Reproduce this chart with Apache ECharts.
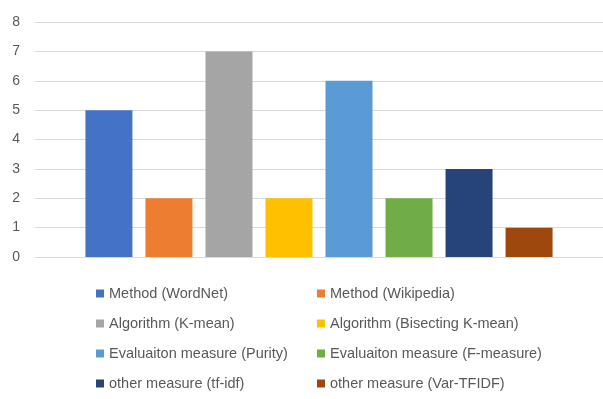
<!DOCTYPE html>
<html>
<head>
<meta charset="utf-8">
<script src="https://cdn.jsdelivr.net/npm/echarts@6/dist/echarts.min.js"></script>
<style>
  html, body { margin: 0; padding: 0; background: #fff; }
  #chart { width: 603px; height: 399px; }
</style>
</head>
<body>
<div id="chart"></div>
<script>
// Series names, values and colours, one bar per series
const seriesNames = [
  'Method (WordNet)',
  'Method (Wikipedia)',
  'Algorithm (K-mean)',
  'Algorithm (Bisecting K-mean)',
  'Evaluaiton measure (Purity)',
  'Evaluaiton measure (F-measure)',
  'other measure (tf-idf)',
  'other measure (Var-TFIDF)'
];
const seriesValues = [5, 2, 7, 2, 6, 2, 3, 1];
const seriesColors = ['#4472C4', '#ED7D31', '#A5A5A5', '#FFC000', '#5B9BD5', '#70AD47', '#264478', '#9E480E'];
const categories = [''];
const yTicks = { min: 0, max: 8, interval: 1 };

// Legend is laid out in two columns
const leftColumn = seriesNames.filter((_, i) => i % 2 === 0);
const rightColumn = seriesNames.filter((_, i) => i % 2 === 1);

const textStyle = { fontFamily: 'Liberation Sans', fontSize: 14.5, color: '#595959', lineHeight: 14 };

const legendBase = {
  orient: 'vertical',
  top: 281,
  height: 200,
  itemWidth: 8,
  itemHeight: 8,
  itemGap: 15,
  icon: 'rect',
  textStyle: textStyle,
  selectedMode: false
};

const chart = echarts.init(document.getElementById('chart'), null, { renderer: 'canvas' });
chart.setOption({
  animation: false,
  backgroundColor: '#ffffff',
  grid: { left: 35, top: 22, right: 0, bottom: 142, containLabel: false },
  legend: [
    Object.assign({}, legendBase, { left: 91, data: leftColumn }),
    Object.assign({}, legendBase, { left: 312, data: rightColumn })
  ],
  xAxis: {
    type: 'category',
    data: categories,
    axisLine: { show: false },
    axisTick: { show: false },
    axisLabel: { show: false }
  },
  yAxis: {
    type: 'value',
    min: yTicks.min,
    max: yTicks.max,
    interval: yTicks.interval,
    axisLine: { show: false },
    axisTick: { show: false },
    axisLabel: { margin: 15, fontFamily: 'Liberation Sans', fontSize: 14, color: '#595959' },
    splitLine: { lineStyle: { color: '#D9D9D9', width: 1 } }
  },
  series: seriesNames.map((name, i) => ({
    name: name,
    type: 'bar',
    data: [seriesValues[i]],
    barWidth: 47,
    barGap: '27.7%',
    itemStyle: { color: seriesColors[i] }
  }))
});
</script>
</body>
</html>
